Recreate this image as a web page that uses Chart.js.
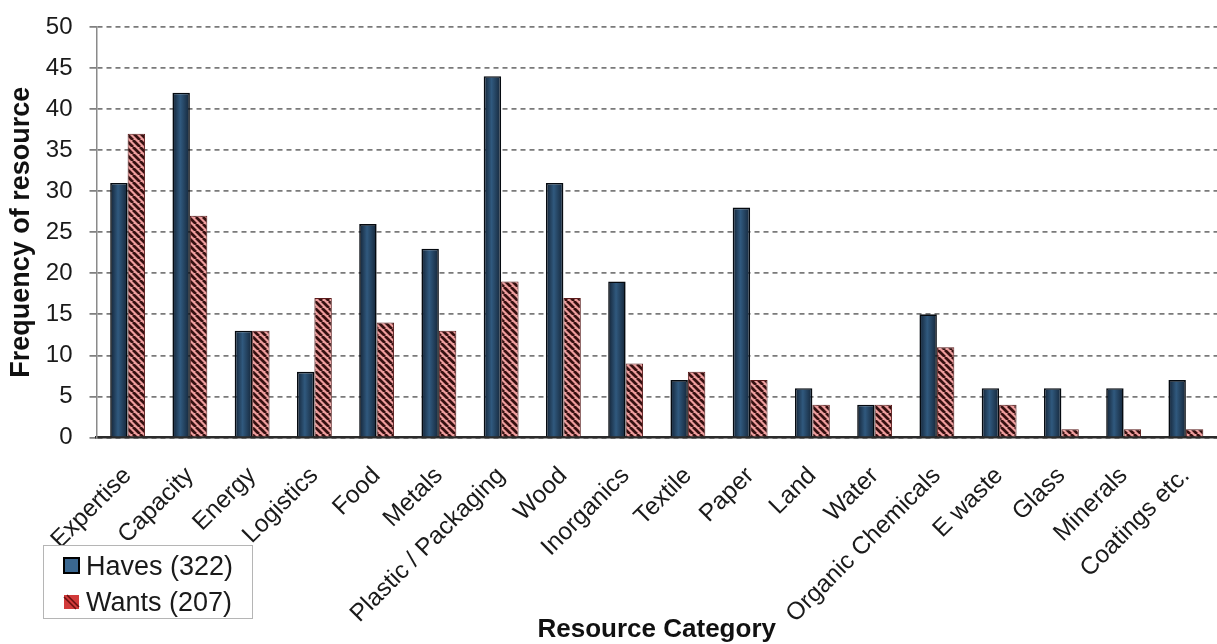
<!DOCTYPE html>
<html>
<head>
<meta charset="utf-8">
<script src="https://cdn.jsdelivr.net/npm/chart.js@4"></script>
<style>
html,body{margin:0;padding:0;background:#fff;}
#wrap{width:1217px;height:644px;position:relative;}
</style>
</head>
<body>
<div id="wrap"><canvas id="c"></canvas></div>
<script>
const categories = ['Expertise','Capacity','Energy','Logistics','Food','Metals','Plastic / Packaging','Wood','Inorganics','Textile','Paper','Land','Water','Organic Chemicals','E waste','Glass','Minerals','Coatings etc.'];
const havesValues = [31,42,13,8,26,23,44,31,19,7,28,6,4,15,6,6,6,7];
const wantsValues = [37,27,13,17,14,13,19,17,9,8,7,4,4,11,4,1,1,1];
const seriesLabels = ['Haves (322)','Wants (207)'];
const yTickValues = [0,5,10,15,20,25,30,35,40,45,50];
const yTitle = 'Frequency of resource';
const xTitle = 'Resource Category';

const FONT = '"Liberation Sans", Arial, sans-serif';
const CAT_PCT = 0.56;

function makeHatch() {
  const s = 7;
  const p = document.createElement('canvas');
  p.width = s; p.height = s;
  const g = p.getContext('2d');
  g.fillStyle = '#ee9d9d';
  g.fillRect(0,0,s,s);
  g.strokeStyle = '#361010';
  g.lineWidth = 2.8;
  g.beginPath();
  for (let k = -1; k <= 1; k++) {
    g.moveTo(k*s, 0);
    g.lineTo(k*s + s, s);
  }
  g.stroke();
  return g.createPattern(p, 'repeat');
}
const ctx0 = document.getElementById('c').getContext('2d');
const hatch = makeHatch();

function havesFill(context) {
  const chart = context.chart;
  const area = chart.chartArea;
  const xs = chart.scales && chart.scales.x;
  if (!area || !xs || context.dataIndex === undefined) return '#1f3a57';
  const cw = (area.right - area.left) / categories.length;
  const center = xs.getPixelForValue(context.dataIndex);
  const bw = cw * CAT_PCT / 2;
  const x0 = center - bw, x1 = center;
  const gr = chart.ctx.createLinearGradient(x0, 0, x1, 0);
  gr.addColorStop(0, '#132234');
  gr.addColorStop(0.45, '#30597e');
  gr.addColorStop(1, '#142538');
  return gr;
}

const legendPlugin = {
  id: 'boxLegend',
  afterDraw(chart) {
    const c = chart.ctx;
    c.save();
    c.fillStyle = '#ffffff';
    c.strokeStyle = '#b5b5b5';
    c.lineWidth = 1;
    c.fillRect(43.5, 545.5, 209, 73);
    c.strokeRect(43.5, 545.5, 209, 73);
    c.font = '27px ' + FONT;
    c.textBaseline = 'alphabetic';
    c.textAlign = 'left';
    const ds = chart.data.datasets;
    // Haves
    c.fillStyle = '#3a6790';
    c.fillRect(64, 558, 15, 15);
    c.strokeStyle = '#000';
    c.lineWidth = 2;
    c.strokeRect(64, 558, 15, 15);
    c.fillStyle = '#1a1a1a';
    c.fillText(ds[0].label, 86, 575);
    // Wants
    c.fillStyle = '#d23a3a';
    c.fillRect(64, 595, 15, 14);
    c.strokeStyle = '#6a1010';
    c.lineWidth = 1.5;
    c.beginPath();
    c.moveTo(64, 597); c.lineTo(76, 609);
    c.moveTo(67, 595); c.lineTo(79, 607);
    c.stroke();
    c.fillStyle = '#1a1a1a';
    c.fillText(ds[1].label, 86, 611);
    c.restore();
  }
};

new Chart(ctx0, {
  type: 'bar',
  data: {
    labels: categories,
    datasets: [
      {
        label: seriesLabels[0],
        data: havesValues,
        backgroundColor: havesFill,
        borderColor: '#050a10',
        borderWidth: 1.6,
        categoryPercentage: CAT_PCT,
        barPercentage: 1.0
      },
      {
        label: seriesLabels[1],
        data: wantsValues,
        backgroundColor: hatch,
        borderColor: '#5a1c1c',
        borderWidth: 1,
        categoryPercentage: CAT_PCT,
        barPercentage: 1.0
      }
    ]
  },
  options: {
    responsive: true,
    maintainAspectRatio: false,
    animation: false,
    devicePixelRatio: 1,
    layout: { padding: { top: 27, right: 0, left: 0, bottom: 0 } },
    plugins: {
      legend: { display: false },
      tooltip: { enabled: false }
    },
    scales: {
      x: {
        grid: { display: false },
        border: { display: true, color: '#2b2b2b', width: 2.5 },
        ticks: {
          autoSkip: false,
          maxRotation: 45,
          minRotation: 45,
          padding: 16,
          color: '#1a1a1a',
          font: { family: FONT, size: 24.5 }
        },
        title: {
          display: true,
          text: xTitle,
          color: '#111',
          font: { family: FONT, size: 26, weight: 'bold', lineHeight: 1.1 },
          padding: { top: 0, bottom: 0 }
        },
        afterFit(scale) {
          scale.height = 206.5;
          scale.paddingLeft = 0;
          scale.paddingRight = 0;
        }
      },
      y: {
        min: 0,
        max: 50,
        afterBuildTicks(scale) { scale.ticks = yTickValues.map(v => ({ value: v })); },
        grid: {
          display: true,
          color: '#7a7a7a',
          lineWidth: 1.8,
          drawTicks: true,
          tickLength: 7,
          tickColor: '#6a6a6a',
          tickWidth: 1.5,
          tickBorderDash: []
        },
        border: { display: true, color: '#8a8a8a', width: 1.5, dash: [5, 4] },
        ticks: {
          padding: 17,
          color: '#1a1a1a',
          font: { family: FONT, size: 24 }
        },
        title: {
          display: true,
          text: yTitle,
          color: '#111',
          font: { family: FONT, size: 27, weight: 'bold', lineHeight: 1.1 },
          padding: { top: 7, bottom: 0 }
        },
        afterFit(scale) {
          scale.width = 96.5;
          scale.paddingTop = 0;
          scale.paddingBottom = 0;
        }
      }
    }
  },
  plugins: [legendPlugin]
});
</script>
</body>
</html>
